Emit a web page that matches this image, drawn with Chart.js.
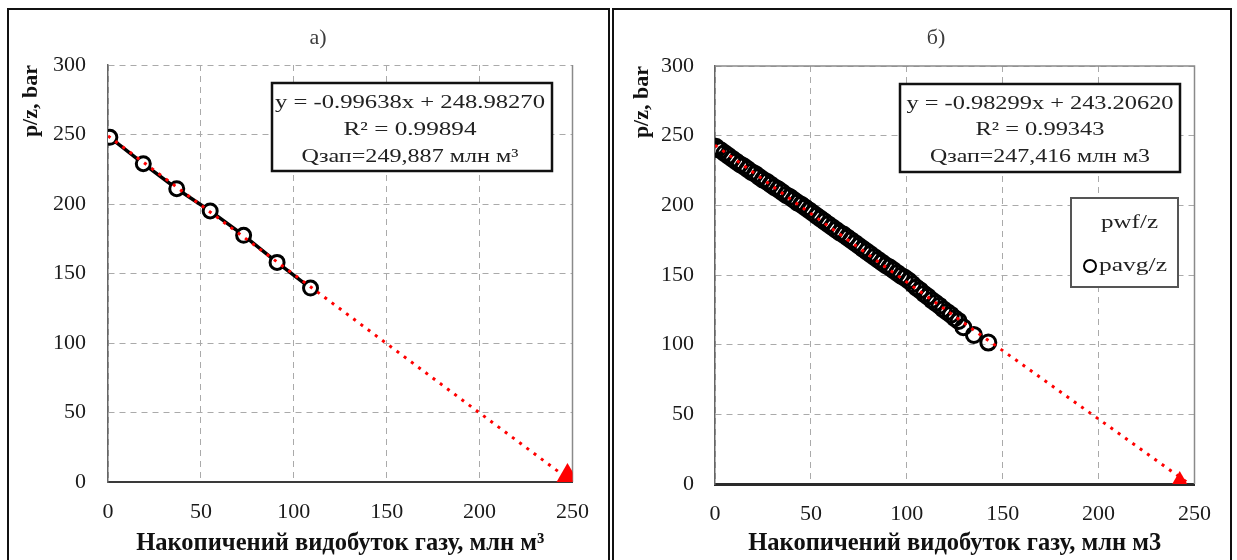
<!DOCTYPE html>
<html lang="uk">
<head>
<meta charset="UTF-8">
<title>p/z від накопиченого видобутку газу</title>
<script src="https://cdn.jsdelivr.net/npm/chart.js"></script>
<style>
    body {
        margin: 0;
        width: 1237px;
        height: 560px;
        background: #fff;
        position: relative;
        overflow: hidden;
    }
    .panel {
        position: absolute;
        top: 8px;
        height: 560px;
        border: 2px solid #111;
        box-sizing: border-box;
    }
    #panelA { left: 7px; width: 603px; }
    #panelB { left: 612px; width: 620px; }
    canvas { position: absolute; }
    #chartA { left: 10px; top: 10px; }
    #chartB { left: 615px; top: 10px; }
</style>
</head>
<body>
<div class="panel" id="panelA"></div>
<div class="panel" id="panelB"></div>
<canvas id="chartA" width="596" height="550"></canvas>
<canvas id="chartB" width="613" height="550"></canvas>

<script>
    // осі (спільні для обох графіків)
    const xTicks = [0, 50, 100, 150, 200, 250];
    const yTicks = [0, 50, 100, 150, 200, 250, 300];

    // а) накопичений видобуток, млн м3 / p/z, bar
    const prodA = [1, 19, 37, 55, 73, 91, 109];
    const pzA = [248, 229, 211, 195, 177.5, 158, 139.5];
    const trendXA = [0, 249.9];
    const trendYA = [249, 0];
    const endXA = [247.3];
    const endYA = [0];
    const boxA = ['y = -0.99638x + 248.98270', 'R² = 0.99894', 'Qзап=249,887 млн м³'];

    // б)
    const prodB = [0.5, 1.5, 3, 5, 7, 9, 11, 13, 15, 17, 19, 21, 23, 25, 27, 29, 31, 33, 35, 37,
        39, 41, 43, 45, 47, 49, 51, 53, 55, 57, 59, 61, 63, 65, 67, 69, 71, 73, 75, 77,
        79, 81, 83, 85, 87, 89, 91, 93, 95, 97, 99, 101, 103, 105, 107, 109, 111, 113, 115, 117,
        119, 121, 123, 125, 127, 129.5, 135, 142.5];
    const pzB = [242, 240.5, 239.5, 237.5, 235.5, 233.5, 231.5, 229.5, 228, 226, 224, 222.5, 220.5, 218.5, 217, 215, 213, 211.5, 209.5, 207.5,
        206, 204, 202, 200.5, 198.5, 196.5, 194.5, 192.5, 190.5, 188.5, 186.5, 184.5, 182.5, 180.5, 179, 177, 175, 173, 171, 169,
        167, 165, 163, 161, 159, 157, 155.5, 153.5, 151.5, 149.5, 148, 146, 143.5, 141, 139, 136.5, 134.5, 132, 130, 128,
        125.5, 123.5, 121.5, 119, 117, 112.5, 107, 101.5];
    const trendXB = [0, 247.4];
    const trendYB = [243.2, 0];
    const endXB = [242.3];
    const endYB = [0];
    const boxB = ['y = -0.98299x + 243.20620', 'R² = 0.99343', 'Qзап=247,416 млн м3'];
    const legendB = ['pwf/z', 'pavg/z'];

    const serif = "'Liberation Serif', 'Times New Roman', serif";
    const gridDash = [6, 5];

    function zip(xs, ys) {
        return xs.map((x, i) => ({ x: x, y: ys[i] }));
    }

    // текст, розтягнутий по ширині (як у вихідному рисунку)
    function fitText(ctx, text, cx, cy, w, size, align) {
        ctx.save();
        ctx.font = size + 'px ' + serif;
        ctx.fillStyle = '#222';
        const m = ctx.measureText(text).width;
        ctx.translate(cx, cy);
        ctx.scale(w / m, 1);
        ctx.textAlign = align || 'center';
        ctx.textBaseline = 'middle';
        ctx.fillText(text, 0, 0);
        ctx.restore();
    }

    function makeDecor(g) {
        return {
            id: 'decor',
            beforeDatasetsDraw(chart) {
                // суцільна рамка області побудови (праворуч, і зверху для б)
                const a = chart.chartArea;
                const ctx = chart.ctx;
                ctx.save();
                ctx.strokeStyle = '#8a8a8a';
                ctx.lineWidth = 1.5;
                ctx.beginPath();
                ctx.moveTo(a.right, a.bottom);
                ctx.lineTo(a.right, a.top);
                if (g.solidTop) ctx.lineTo(a.left, a.top);
                ctx.stroke();
                ctx.restore();
            },
            afterDatasetsDraw(chart) {
                const ctx = chart.ctx;
                ctx.save();
                ctx.fillStyle = '#3c3c3c';
                ctx.font = '22px ' + serif;
                ctx.textAlign = 'center';
                ctx.textBaseline = 'middle';
                ctx.fillText(g.title, g.titleX, g.titleY);
                ctx.restore();

                const b = g.box;
                ctx.save();
                ctx.fillStyle = '#fff';
                ctx.fillRect(b.x, b.y, b.w, b.h);
                ctx.lineWidth = 2.5;
                ctx.strokeStyle = '#111';
                ctx.strokeRect(b.x, b.y, b.w, b.h);
                ctx.restore();
                g.lines.forEach((t, i) => fitText(ctx, t, b.cx, b.ly[i], b.lw[i], 19));

                if (g.legend) {
                    const l = g.legend;
                    ctx.save();
                    ctx.fillStyle = '#fff';
                    ctx.fillRect(l.x, l.y, l.w, l.h);
                    ctx.lineWidth = 2;
                    ctx.strokeStyle = '#555';
                    ctx.strokeRect(l.x, l.y, l.w, l.h);
                    const ds = chart.data.datasets[2];
                    ctx.beginPath();
                    ctx.arc(l.mx, l.my2, 6, 0, Math.PI * 2);
                    ctx.lineWidth = 2;
                    ctx.strokeStyle = ds.pointBorderColor;
                    ctx.stroke();
                    ctx.restore();
                    fitText(ctx, l.labels[0], l.tx, l.my1, l.tw[0], 19, 'left');
                    fitText(ctx, l.labels[1], l.tx - 2, l.my2, l.tw[1], 19, 'left');
                }
            }
        };
    }

    function makeChart(id, g) {
        return new Chart(document.getElementById(id), {
            type: 'scatter',
            data: {
                datasets: [
                    {
                        label: 'тренд',
                        data: zip(g.trendX, g.trendY),
                        showLine: true,
                        borderColor: '#ff0000',
                        borderWidth: 3,
                        borderDash: [3, 6],
                        pointRadius: 0,
                        order: 0
                    },
                    {
                        label: 'Qзап',
                        data: zip(g.endX, g.endY),
                        pointStyle: 'triangle',
                        pointRadius: g.triR,
                        backgroundColor: '#ff0000',
                        borderColor: '#ff0000',
                        borderWidth: 0,
                        clip: 0,
                        order: 1
                    },
                    {
                        label: g.seriesLabel,
                        data: zip(g.prod, g.pz),
                        showLine: g.joined,
                        borderColor: '#000',
                        borderWidth: 3.5,
                        pointRadius: g.ptR,
                        pointBorderWidth: g.ptW,
                        pointBorderColor: '#000',
                        pointBackgroundColor: g.ptFill,
                        order: 2
                    }
                ]
            },
            options: {
                responsive: false,
                animation: false,
                events: [],
                layout: { padding: { top: g.padTop, right: g.padRight, left: 0, bottom: 0 } },
                plugins: {
                    legend: { display: false },
                    title: { display: false },
                    tooltip: { enabled: false }
                },
                scales: {
                    x: {
                        type: 'linear',
                        min: 0,
                        max: 250,
                        afterBuildTicks: s => { s.ticks = xTicks.map(v => ({ value: v })); },
                        afterFit: s => { s.height = g.xh; },
                        grid: { drawTicks: false, color: '#aaaaaa', lineWidth: 1, borderDash: gridDash },
                        border: { color: g.xAxisColor, width: g.xAxisWidth, dash: gridDash },
                        ticks: {
                            padding: 17,
                            color: '#1a1a1a',
                            font: { family: serif, size: 22 }
                        },
                        title: {
                            display: true,
                            text: g.xTitle,
                            color: '#111',
                            font: { family: serif, size: 24.5, weight: 'bold' },
                            padding: { top: 0, bottom: 2 }
                        }
                    },
                    y: {
                        type: 'linear',
                        min: 0,
                        max: 300,
                        afterBuildTicks: s => { s.ticks = yTicks.map(v => ({ value: v })); },
                        afterFit: s => { s.width = g.yw; },
                        grid: { drawTicks: false, color: '#aaaaaa', lineWidth: 1, borderDash: gridDash },
                        border: { color: '#666', width: 1.5, dash: gridDash },
                        ticks: {
                            padding: g.yPad,
                            color: '#1a1a1a',
                            font: { family: serif, size: 22 }
                        },
                        title: {
                            display: true,
                            text: 'p/z, bar',
                            align: 'end',
                            color: '#111',
                            font: { family: serif, size: 22, weight: 'bold' },
                            padding: { top: g.yTitlePad, bottom: 0 }
                        }
                    }
                }
            },
            plugins: [makeDecor(g)]
        });
    }

    makeChart('chartA', {
        prod: prodA, pz: pzA, trendX: trendXA, trendY: trendYA, endX: endXA, endY: endYA,
        seriesLabel: 'p/z', joined: true, ptR: 7, ptW: 3, ptFill: '#fff', triR: 19,
        padTop: 55, padRight: 31, xh: 78, yw: 98, yPad: 22, yTitlePad: 8,
        xAxisColor: '#3a3a3a', xAxisWidth: 2, solidTop: false,
        xTitle: 'Накопичений видобуток газу, млн м³',
        title: 'а)', titleX: 308, titleY: 28,
        lines: boxA,
        box: { x: 262, y: 73, w: 280, h: 88, cx: 400, ly: [93, 120, 147], lw: [270, 133, 217] }
    });

    makeChart('chartB', {
        prod: prodB, pz: pzB, trendX: trendXB, trendY: trendYB, endX: endXB, endY: endYB,
        seriesLabel: 'pavg/z', joined: false, ptR: 7.5, ptW: 3, ptFill: 'rgba(0,0,0,0)', triR: 13,
        padTop: 56, padRight: 27, xh: 76, yw: 100, yPad: 21, yTitlePad: 14,
        xAxisColor: '#2a2a2a', xAxisWidth: 3, solidTop: true,
        xTitle: 'Накопичений видобуток газу, млн м3',
        title: 'б)', titleX: 321, titleY: 28,
        lines: boxB,
        box: { x: 285, y: 74, w: 280, h: 88, cx: 425, ly: [94, 120, 147], lw: [267, 129, 220] },
        legend: { x: 456, y: 188, w: 107, h: 89, labels: legendB, tx: 486, tw: [57, 68], mx: 475, my1: 213, my2: 256 }
    });
</script>
</body>
</html>
